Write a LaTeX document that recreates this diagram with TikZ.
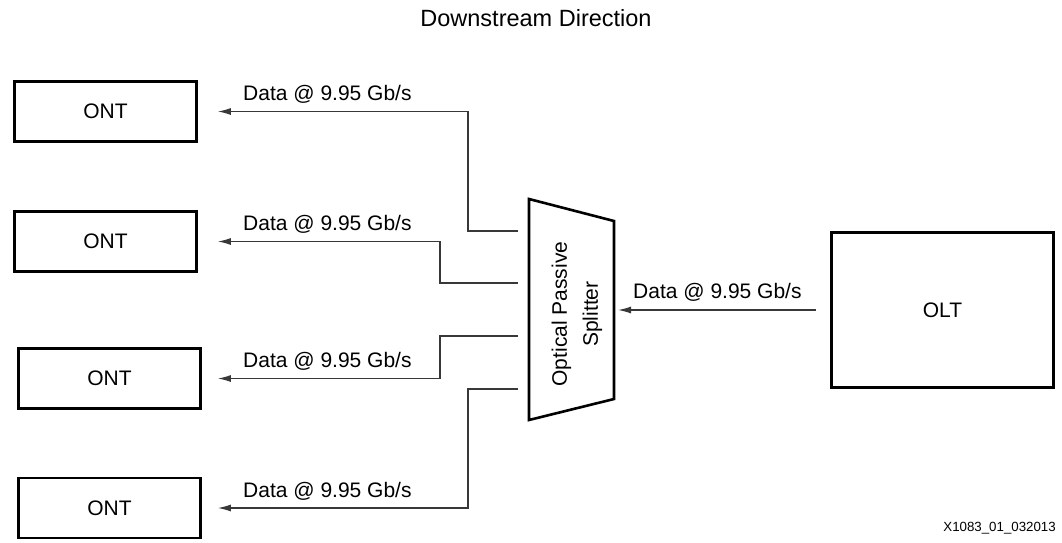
\documentclass[tikz,border=0pt]{standalone}
\usepackage{fontspec}
\setmainfont{Liberation Sans}
\usetikzlibrary{arrows.meta}
\begin{document}
\begin{tikzpicture}[x=1pt,y=-1pt,>={Latex[length=13pt,width=7pt]},
	box/.style={draw,line width=2.6pt,minimum width=182pt,minimum height=60pt,inner sep=0pt,font=\fontsize{21}{25}\selectfont},
	feed/.style={->,line width=1.3pt,black!78},
	rate/.style={anchor=base west,inner sep=0pt,font=\fontsize{21}{25}\selectfont}]
	\useasboundingbox (0,0) rectangle (1062,542);
	\node[font=\fontsize{23.5}{28}\selectfont] (title) at (536,18) {Downstream Direction};
	\foreach \n/\cx/\cy/\py/\jx/\sh in {1/105.5/111.5/231/468/20,2/105.5/241.5/283/440/20,3/109.5/378.5/336/440/16,4/109.5/508/389/468/16}{
		\node[box] (ont\n) at (\cx,\cy) {ONT};
		\coordinate (port\n) at (518,\py);
		\node[rate] (rate\n) at (243,\cy-11) {Data @ 9.95 Gb/s};
		\draw[feed,shorten >=\sh pt] (port\n) -- (\jx,\py) |- (ont\n.east);
	}
	\draw[line width=2.6pt,line join=miter] (529,199)--(614,221)--(614,399)--(529,420)--cycle;
	\node[rotate=90,align=center,inner sep=0pt,font=\fontsize{21}{31}\selectfont] (split) at (577,314) {Optical Passive\\Splitter};
	\coordinate (sin) at (614,310);
	\node[box,minimum width=222pt,minimum height=155pt] (olt) at (942.5,310) {OLT};
	\draw[feed,shorten <=14pt,shorten >=4pt] (olt.west) -- (sin);
	\node[rate] (rate0) at (633,298) {Data @ 9.95 Gb/s};
	\node[anchor=east,inner sep=0pt,font=\fontsize{13.3}{16}\selectfont] (figid) at (1056,528) {X1083\_01\_032013};
	%\draw[ultra thin,cyan](0,0)grid[step=50](1062,542);
\end{tikzpicture}
\end{document}
